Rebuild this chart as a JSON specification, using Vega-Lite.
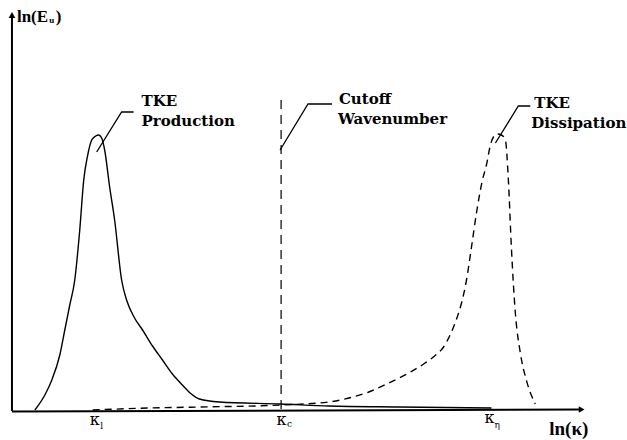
{
  "$schema": "https://vega.github.io/schema/vega-lite/v6.json",
  "width": 627,
  "height": 440,
  "padding": 0,
  "autosize": {"type": "fit", "contains": "padding"},
  "background": "white",
  "config": {"view": {"stroke": null}, "text": {"font": "Liberation Serif"}},
  "datasets": {
    "axes": [
      {"part": "x", "ord": 1, "lnk": 12, "lnE": 28.5},
      {"part": "x", "ord": 2, "lnk": 583, "lnE": 30.5},
      {"part": "y", "ord": 1, "lnk": 12, "lnE": 29},
      {"part": "y", "ord": 2, "lnk": 12, "lnE": 424}
    ],
    "arrows": [
      {"dir": "up", "lnk": 12, "lnE": 425},
      {"dir": "right", "lnk": 583.5, "lnE": 30.5}
    ],
    "production": [
      {"lnk": 35, "lnE": 30}, {"lnk": 45, "lnE": 45}, {"lnk": 52, "lnE": 60}, {"lnk": 60, "lnE": 85},
      {"lnk": 65, "lnE": 110}, {"lnk": 70, "lnE": 135}, {"lnk": 75, "lnE": 160}, {"lnk": 80, "lnE": 210},
      {"lnk": 84, "lnE": 260}, {"lnk": 88, "lnE": 285}, {"lnk": 92, "lnE": 300}, {"lnk": 96, "lnE": 304},
      {"lnk": 99, "lnE": 305}, {"lnk": 102, "lnE": 302}, {"lnk": 105, "lnE": 290}, {"lnk": 110, "lnE": 253},
      {"lnk": 115, "lnE": 220}, {"lnk": 122, "lnE": 160}, {"lnk": 127, "lnE": 140}, {"lnk": 135, "lnE": 122},
      {"lnk": 143, "lnE": 110}, {"lnk": 153, "lnE": 94}, {"lnk": 163, "lnE": 80}, {"lnk": 173, "lnE": 66},
      {"lnk": 183, "lnE": 55}, {"lnk": 192, "lnE": 46}, {"lnk": 200, "lnE": 41}, {"lnk": 220, "lnE": 38},
      {"lnk": 282, "lnE": 36}, {"lnk": 330, "lnE": 34}, {"lnk": 400, "lnE": 33}, {"lnk": 493, "lnE": 32}
    ],
    "dissipation": [
      {"lnk": 93, "lnE": 30}, {"lnk": 150, "lnE": 32}, {"lnk": 200, "lnE": 33}, {"lnk": 282, "lnE": 35},
      {"lnk": 330, "lnE": 38}, {"lnk": 350, "lnE": 42}, {"lnk": 370, "lnE": 48}, {"lnk": 390, "lnE": 57},
      {"lnk": 410, "lnE": 67}, {"lnk": 425, "lnE": 76}, {"lnk": 436, "lnE": 84}, {"lnk": 445, "lnE": 93},
      {"lnk": 452, "lnE": 106}, {"lnk": 458, "lnE": 121}, {"lnk": 463, "lnE": 137}, {"lnk": 468, "lnE": 160},
      {"lnk": 473, "lnE": 193}, {"lnk": 478, "lnE": 227}, {"lnk": 484, "lnE": 260}, {"lnk": 488, "lnE": 275},
      {"lnk": 492, "lnE": 295}, {"lnk": 495, "lnE": 303}, {"lnk": 499, "lnE": 306}, {"lnk": 503, "lnE": 305},
      {"lnk": 507, "lnE": 300}, {"lnk": 510, "lnE": 260}, {"lnk": 513, "lnE": 193}, {"lnk": 517, "lnE": 127},
      {"lnk": 522, "lnE": 87}, {"lnk": 528, "lnE": 60}, {"lnk": 537, "lnE": 36}
    ],
    "cutoff": [{"lnk": 282, "top": 340, "bottom": 30}],
    "leaders": [
      {"label": "prod", "ord": 1, "lnk": 97, "lnE": 288},
      {"label": "prod", "ord": 2, "lnk": 122, "lnE": 328},
      {"label": "prod", "ord": 3, "lnk": 134, "lnE": 328},
      {"label": "cut", "ord": 1, "lnk": 281, "lnE": 290},
      {"label": "cut", "ord": 2, "lnk": 309, "lnE": 336},
      {"label": "cut", "ord": 3, "lnk": 333, "lnE": 336},
      {"label": "diss", "ord": 1, "lnk": 497, "lnE": 297},
      {"label": "diss", "ord": 2, "lnk": 520, "lnE": 334},
      {"label": "diss", "ord": 3, "lnk": 532, "lnE": 334}
    ],
    "labels": [
      {"text": "TKE", "lnk": 142, "lnE": 334},
      {"text": "Production", "lnk": 142, "lnE": 314},
      {"text": "Cutoff", "lnk": 340, "lnE": 336},
      {"text": "Wavenumber", "lnk": 339, "lnE": 316},
      {"text": "TKE", "lnk": 536, "lnE": 332},
      {"text": "Dissipation", "lnk": 533, "lnE": 312}
    ],
    "titles": [
      {"text": "ln(E", "lnk": 17, "lnE": 418},
      {"text": ")", "lnk": 56, "lnE": 418}
    ],
    "xtitle": [{"text": "ln(κ)", "lnk": 551, "lnE": 5}],
    "titleSub": [{"text": "u", "lnk": 49.5, "lnE": 417}],
    "ticks": [
      {"text": "κ", "lnk": 95, "lnE": 15},
      {"text": "κ", "lnk": 282.5, "lnE": 15},
      {"text": "κ", "lnk": 491, "lnE": 17}
    ],
    "tickSub": [
      {"text": "l", "lnk": 100.5, "lnE": 11},
      {"text": "c", "lnk": 288, "lnE": 13},
      {"text": "η", "lnk": 496, "lnE": 12}
    ]
  },
  "encoding": {
    "x": {"field": "lnk", "type": "quantitative", "scale": {"domain": [0, 627], "nice": false, "zero": false}, "axis": null},
    "y": {"field": "lnE", "type": "quantitative", "scale": {"domain": [0, 440], "nice": false, "zero": false}, "axis": null}
  },
  "layer": [
    {
      "data": {"name": "axes"},
      "mark": {"type": "line", "color": "black", "strokeWidth": 2},
      "encoding": {"detail": {"field": "part"}, "order": {"field": "ord"}}
    },
    {
      "data": {"name": "arrows"},
      "mark": {"type": "point", "filled": true, "color": "black", "opacity": 1, "size": 45},
      "encoding": {"shape": {"field": "dir", "type": "nominal", "scale": {"domain": ["up", "right"], "range": ["triangle-up", "triangle-right"]}, "legend": null}}
    },
    {
      "data": {"name": "production"},
      "mark": {"type": "line", "color": "black", "strokeWidth": 1.4, "interpolate": "monotone"}
    },
    {
      "data": {"name": "dissipation"},
      "mark": {"type": "line", "color": "black", "strokeWidth": 1.4, "interpolate": "monotone", "strokeDash": [7, 5]}
    },
    {
      "data": {"name": "cutoff"},
      "mark": {"type": "rule", "color": "black", "strokeWidth": 1.2, "strokeDash": [9, 6]},
      "encoding": {"y": {"field": "top", "type": "quantitative"}, "y2": {"field": "bottom"}}
    },
    {
      "data": {"name": "leaders"},
      "mark": {"type": "line", "color": "black", "strokeWidth": 1.3},
      "encoding": {"detail": {"field": "label"}, "order": {"field": "ord"}}
    },
    {
      "data": {"name": "labels"},
      "mark": {"type": "text", "align": "left", "baseline": "alphabetic", "fontSize": 15, "fontWeight": "bold", "font": "DejaVu Serif", "color": "black"},
      "encoding": {"text": {"field": "text"}}
    },
    {
      "data": {"name": "titles"},
      "mark": {"type": "text", "align": "left", "baseline": "alphabetic", "fontSize": 17, "fontWeight": "bold", "color": "black"},
      "encoding": {"text": {"field": "text"}}
    },
    {
      "data": {"name": "xtitle"},
      "mark": {"type": "text", "align": "left", "baseline": "alphabetic", "fontSize": 19, "fontWeight": "bold", "color": "black"},
      "encoding": {"text": {"field": "text"}}
    },
    {
      "data": {"name": "titleSub"},
      "mark": {"type": "text", "align": "left", "baseline": "alphabetic", "fontSize": 9, "fontWeight": "bold", "color": "black"},
      "encoding": {"text": {"field": "text"}}
    },
    {
      "data": {"name": "ticks"},
      "mark": {"type": "text", "align": "center", "baseline": "alphabetic", "fontSize": 16, "font": "DejaVu Serif", "color": "black"},
      "encoding": {"text": {"field": "text"}}
    },
    {
      "data": {"name": "tickSub"},
      "mark": {"type": "text", "align": "left", "baseline": "alphabetic", "fontSize": 9, "font": "DejaVu Serif", "color": "black"},
      "encoding": {"text": {"field": "text"}}
    }
  ]
}
